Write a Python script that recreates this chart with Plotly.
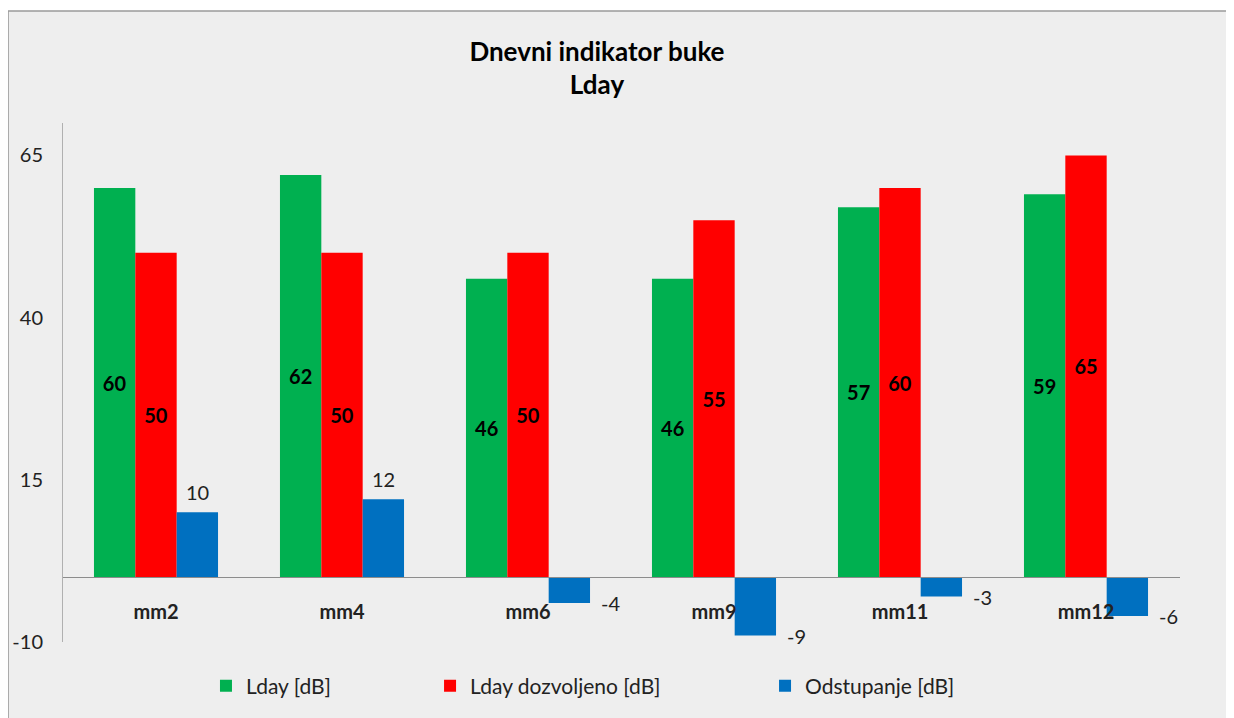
import plotly.graph_objects as go

# data
points = ['mm2', 'mm4', 'mm6', 'mm9', 'mm11', 'mm12']
lday = [60, 62, 46, 46, 57, 59]
lday_allowed = [50, 50, 50, 55, 60, 65]
deviation = [10, 12, -4, -9, -3, -6]

y_ticks = [-10, 15, 40, 65]
y_tick_labels = ['-10', '15', '40', '65']

series_names = ['Lday [dB]', 'Lday dozvoljeno [dB]', 'Odstupanje [dB]']
colors = ['#00b050', '#ff0000', '#0070c0']

FONT = 'Lato, Carlito, Calibri, sans-serif'

fig = go.Figure()

# Lday + allowed: bold labels centred inside the bars
for i, vals in enumerate([lday, lday_allowed]):
    fig.add_trace(go.Bar(
        x=points, y=vals, name=series_names[i],
        marker=dict(color=colors[i], line=dict(width=0)),
        text=[str(v) for v in vals],
        textposition='inside', insidetextanchor='middle', textangle=0,
        textfont=dict(family=FONT, size=20, color='black', weight='bold'),
        legend='legend' if i == 0 else 'legend2',
        showlegend=True,
    ))

fig.add_trace(go.Bar(
    x=points, y=deviation, name=series_names[2],
    marker=dict(color=colors[2], line=dict(width=0)),
    legend='legend3', showlegend=True,
))

# deviation labels: above positive bars, right of negative bars
for p, v in zip(points, deviation):
    if v >= 0:
        fig.add_annotation(x=p, y=v, text=str(v), showarrow=False,
                           xshift=41, yshift=6, yanchor='bottom', xanchor='center',
                           font=dict(family=FONT, size=20, color='#222'))
    else:
        fig.add_annotation(x=p, y=v, text=str(v), showarrow=False,
                           xshift=71, yanchor='middle', xanchor='left',
                           font=dict(family=FONT, size=20, color='#222'))

# chart box behind everything
fig.add_shape(type='rect', xref='paper', yref='paper',
              x0=-0.0492, x1=1.2, y0=-0.3, y1=1.2158,
              fillcolor='#eeeeee', line=dict(color='#9a9a9a', width=1.5),
              layer='below')

legend_style = dict(orientation='h', yanchor='middle', xanchor='left', y=-0.085,
                    bgcolor='rgba(0,0,0,0)',
                    font=dict(family=FONT, size=21, color='#222'))

fig.update_layout(
    width=1226, height=710,
    showlegend=True,
    paper_bgcolor='white',
    plot_bgcolor='#e6e4e4',
    margin=dict(l=55, r=54, t=115, b=76, autoexpand=False),
    barmode='group', bargap=0.333, bargroupgap=0,
    font=dict(family=FONT, size=20, color='#222'),
    title=dict(text='<b>Dnevni indikator buke<br>Lday</b>',
               xref='container', yref='container',
               x=0.4804, xanchor='center', y=0.926, yanchor='top',
               font=dict(family=FONT, size=26, color='black')),
    legend=dict(x=0.128, **legend_style),
    legend2=dict(x=0.3286, **legend_style),
    legend3=dict(x=0.6285, **legend_style),
    xaxis=dict(anchor='free', position=(10 / 80), showline=True,
               linecolor='#8c8c8c', linewidth=1, ticks='',
               ticklabelstandoff=17, automargin=False,
               tickfont=dict(family=FONT, size=20, color='#222', weight='bold'),
               showgrid=False),
    yaxis=dict(range=[-10, 70], tickvals=y_ticks, ticktext=y_tick_labels,
               showline=True, linecolor='#b0b0b0', linewidth=1,
               showgrid=False, zeroline=False, ticks='',
               ticklabelstandoff=15, automargin=False,
               tickfont=dict(family=FONT, size=20, color='#222')),
)

fig.write_html("out.html")
